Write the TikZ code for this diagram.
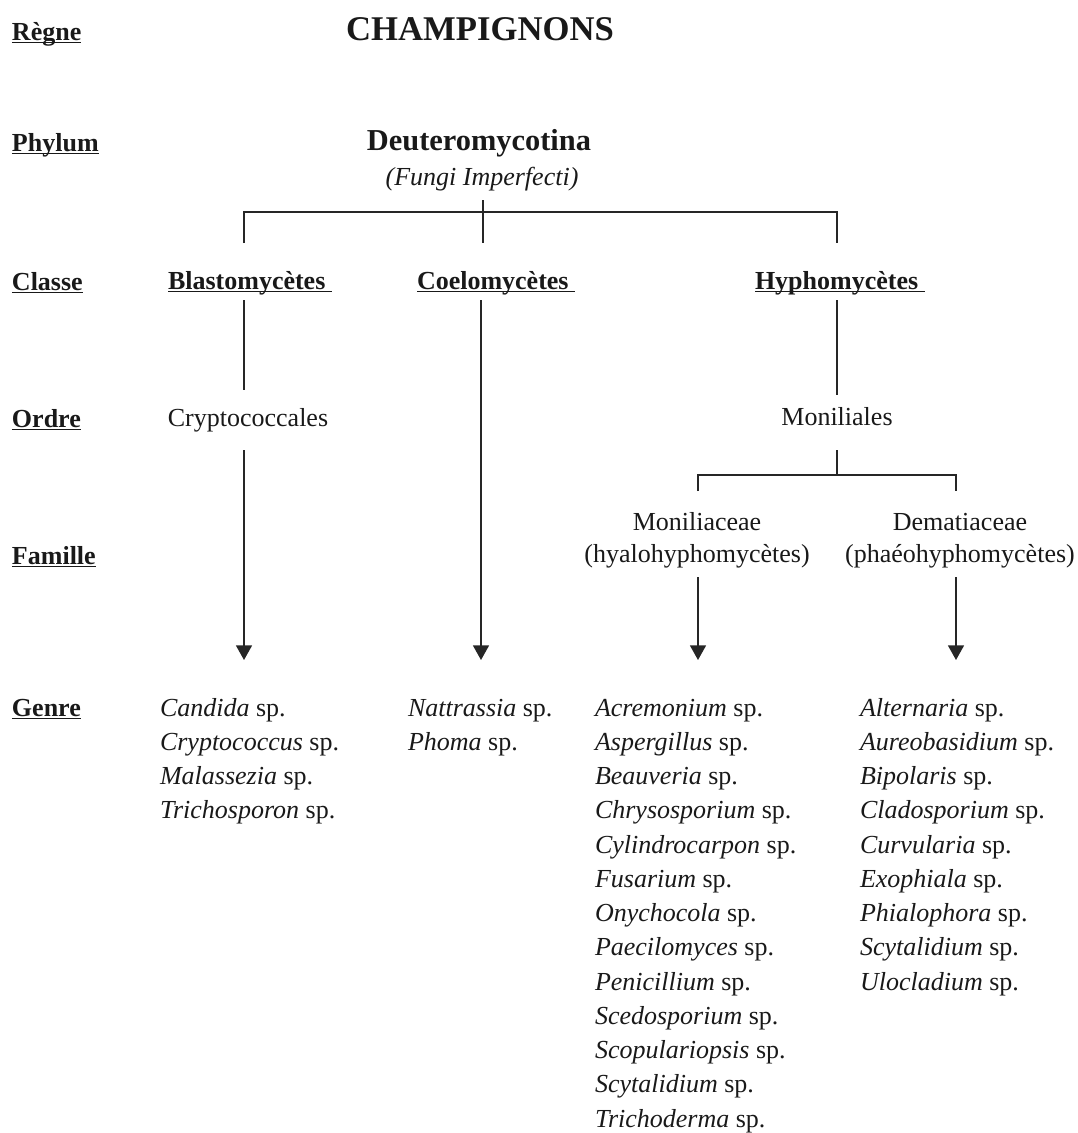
\documentclass[tikz,border=0pt]{standalone}
\usepackage{fontspec}
\setmainfont{Liberation Serif}
\usetikzlibrary{arrows.meta}
\newcommand{\ulx}[1]{\setbox0\hbox{#1}\rlap{\rule[-2.2pt]{\wd0}{0.9pt}}\box0}
\begin{document}
\begin{tikzpicture}[x=0.75pt,y=-0.75pt,
  every node/.style={inner sep=0pt,outer sep=0pt,text=black!90},
  lvl/.style={font=\fontsize{19.5}{25.7}\selectfont\bfseries, anchor=base west},
  cls/.style={font=\fontsize{19.5}{25.7}\selectfont\bfseries, anchor=base west},
  ord/.style={font=\fontsize{19.5}{25.7}\selectfont, anchor=base},
  fam/.style={font=\fontsize{19.5}{24}\selectfont, anchor=base},
  gen/.style={font=\fontsize{19.5}{25.69}\selectfont, anchor=base west},
  ln/.style={line width=1.2pt, draw=black!85},
  arr/.style={ln, -{Triangle[width=12pt,length=11pt]}}]
\useasboundingbox (0,0) rectangle (1078,1133);

% level labels
\node[lvl] (regne) at (12,40) {\ulx{Règne}};
\node[lvl] (phylum) at (12,151) {\ulx{Phylum}};
\node[lvl] (classe) at (12,290) {\ulx{Classe}};
\node[lvl] (ordre) at (12,427) {\ulx{Ordre}};
\node[lvl] (famille) at (12,564) {\ulx{Famille}};
\node[lvl] (genre) at (12,716) {\ulx{Genre}};

% kingdom and phylum
\node[font=\fontsize{26}{30}\selectfont\bfseries, anchor=base] (champ) at (480,40) {CHAMPIGNONS};
\node[font=\fontsize{22.8}{27}\selectfont\bfseries, anchor=base] (deut) at (479,150) {Deuteromycotina};
\node[font=\fontsize{19.5}{25.7}\selectfont\itshape, anchor=base] (fungi) at (482,185) {(Fungi Imperfecti)};

% classes
\node[cls] (blast) at (168,289) {\ulx{Blastomycètes\ }};
\node[cls] (coel) at (417,289) {\ulx{Coelomycètes\ }};
\node[cls] (hyph) at (755,289) {\ulx{Hyphomycètes\ }};

% orders
\node[ord] (cryp) at (248,426) {Cryptococcales};
\node[ord] (monil) at (837,425) {Moniliales};

% families
\node[fam] (monfam) at (697,530) {\begin{tabular}[t]{@{}c@{}}Moniliaceae\\(hyalohyphomycètes)\end{tabular}};
\node[fam] (demfam) at (960,530) {\begin{tabular}[t]{@{}c@{}}Dematiaceae\\(phaéohyphomycètes)\end{tabular}};

% genera
\node[gen] (g1) at (160,716) {\begin{tabular}[t]{@{}l@{}}
\textit{Candida} sp.\\ \textit{Cryptococcus} sp.\\ \textit{Malassezia} sp.\\ \textit{Trichosporon} sp.\end{tabular}};
\node[gen] (g2) at (408,716) {\begin{tabular}[t]{@{}l@{}}
\textit{Nattrassia} sp.\\ \textit{Phoma} sp.\end{tabular}};
\node[gen] (g3) at (595,716) {\begin{tabular}[t]{@{}l@{}}
\textit{Acremonium} sp.\\ \textit{Aspergillus} sp.\\ \textit{Beauveria} sp.\\ \textit{Chrysosporium} sp.\\
\textit{Cylindrocarpon} sp.\\ \textit{Fusarium} sp.\\ \textit{Onychocola} sp.\\ \textit{Paecilomyces} sp.\\
\textit{Penicillium} sp.\\ \textit{Scedosporium} sp.\\ \textit{Scopulariopsis} sp.\\ \textit{Scytalidium} sp.\\
\textit{Trichoderma} sp.\end{tabular}};
\node[gen] (g4) at (860,716) {\begin{tabular}[t]{@{}l@{}}
\textit{Alternaria} sp.\\ \textit{Aureobasidium} sp.\\ \textit{Bipolaris} sp.\\ \textit{Cladosporium} sp.\\
\textit{Curvularia} sp.\\ \textit{Exophiala} sp.\\ \textit{Phialophora} sp.\\ \textit{Scytalidium} sp.\\
\textit{Ulocladium} sp.\end{tabular}};

% junction coordinates
\coordinate (pv1) at (483,200);
\coordinate (pv2) at (483,243);
\coordinate (bl1) at (244,243);
\coordinate (br1) at (837,243);
\coordinate (bar1) at (0,212);
\coordinate (blA) at (244,300);
\coordinate (blB) at (244,390);
\coordinate (crA) at (244,450);
\coordinate (tip1) at (244,660);
\coordinate (coA) at (481,300);
\coordinate (tip2) at (481,660);
\coordinate (hyA) at (837,300);
\coordinate (hyB) at (837,395);
\coordinate (moA) at (837,450);
\coordinate (moB) at (837,475);
\coordinate (fl1) at (698,491);
\coordinate (fr1) at (956,491);
\coordinate (mfA) at (698,577);
\coordinate (tip3) at (698,660);
\coordinate (dfA) at (956,577);
\coordinate (tip4) at (956,660);

% connectors
\draw[ln] (pv1) -- (pv2);
\draw[ln] (bl1) -- (bl1 |- bar1) -- (br1 |- bar1) -- (br1);
\draw[ln] (blA) -- (blB);
\draw[arr] (crA) -- (tip1);
\draw[arr] (coA) -- (tip2);
\draw[ln] (hyA) -- (hyB);
\draw[ln] (moA) -- (moB);
\draw[ln] (fl1) -- (fl1 |- moB) -- (fr1 |- moB) -- (fr1);
\draw[arr] (mfA) -- (tip3);
\draw[arr] (dfA) -- (tip4);
\end{tikzpicture}
\end{document}
